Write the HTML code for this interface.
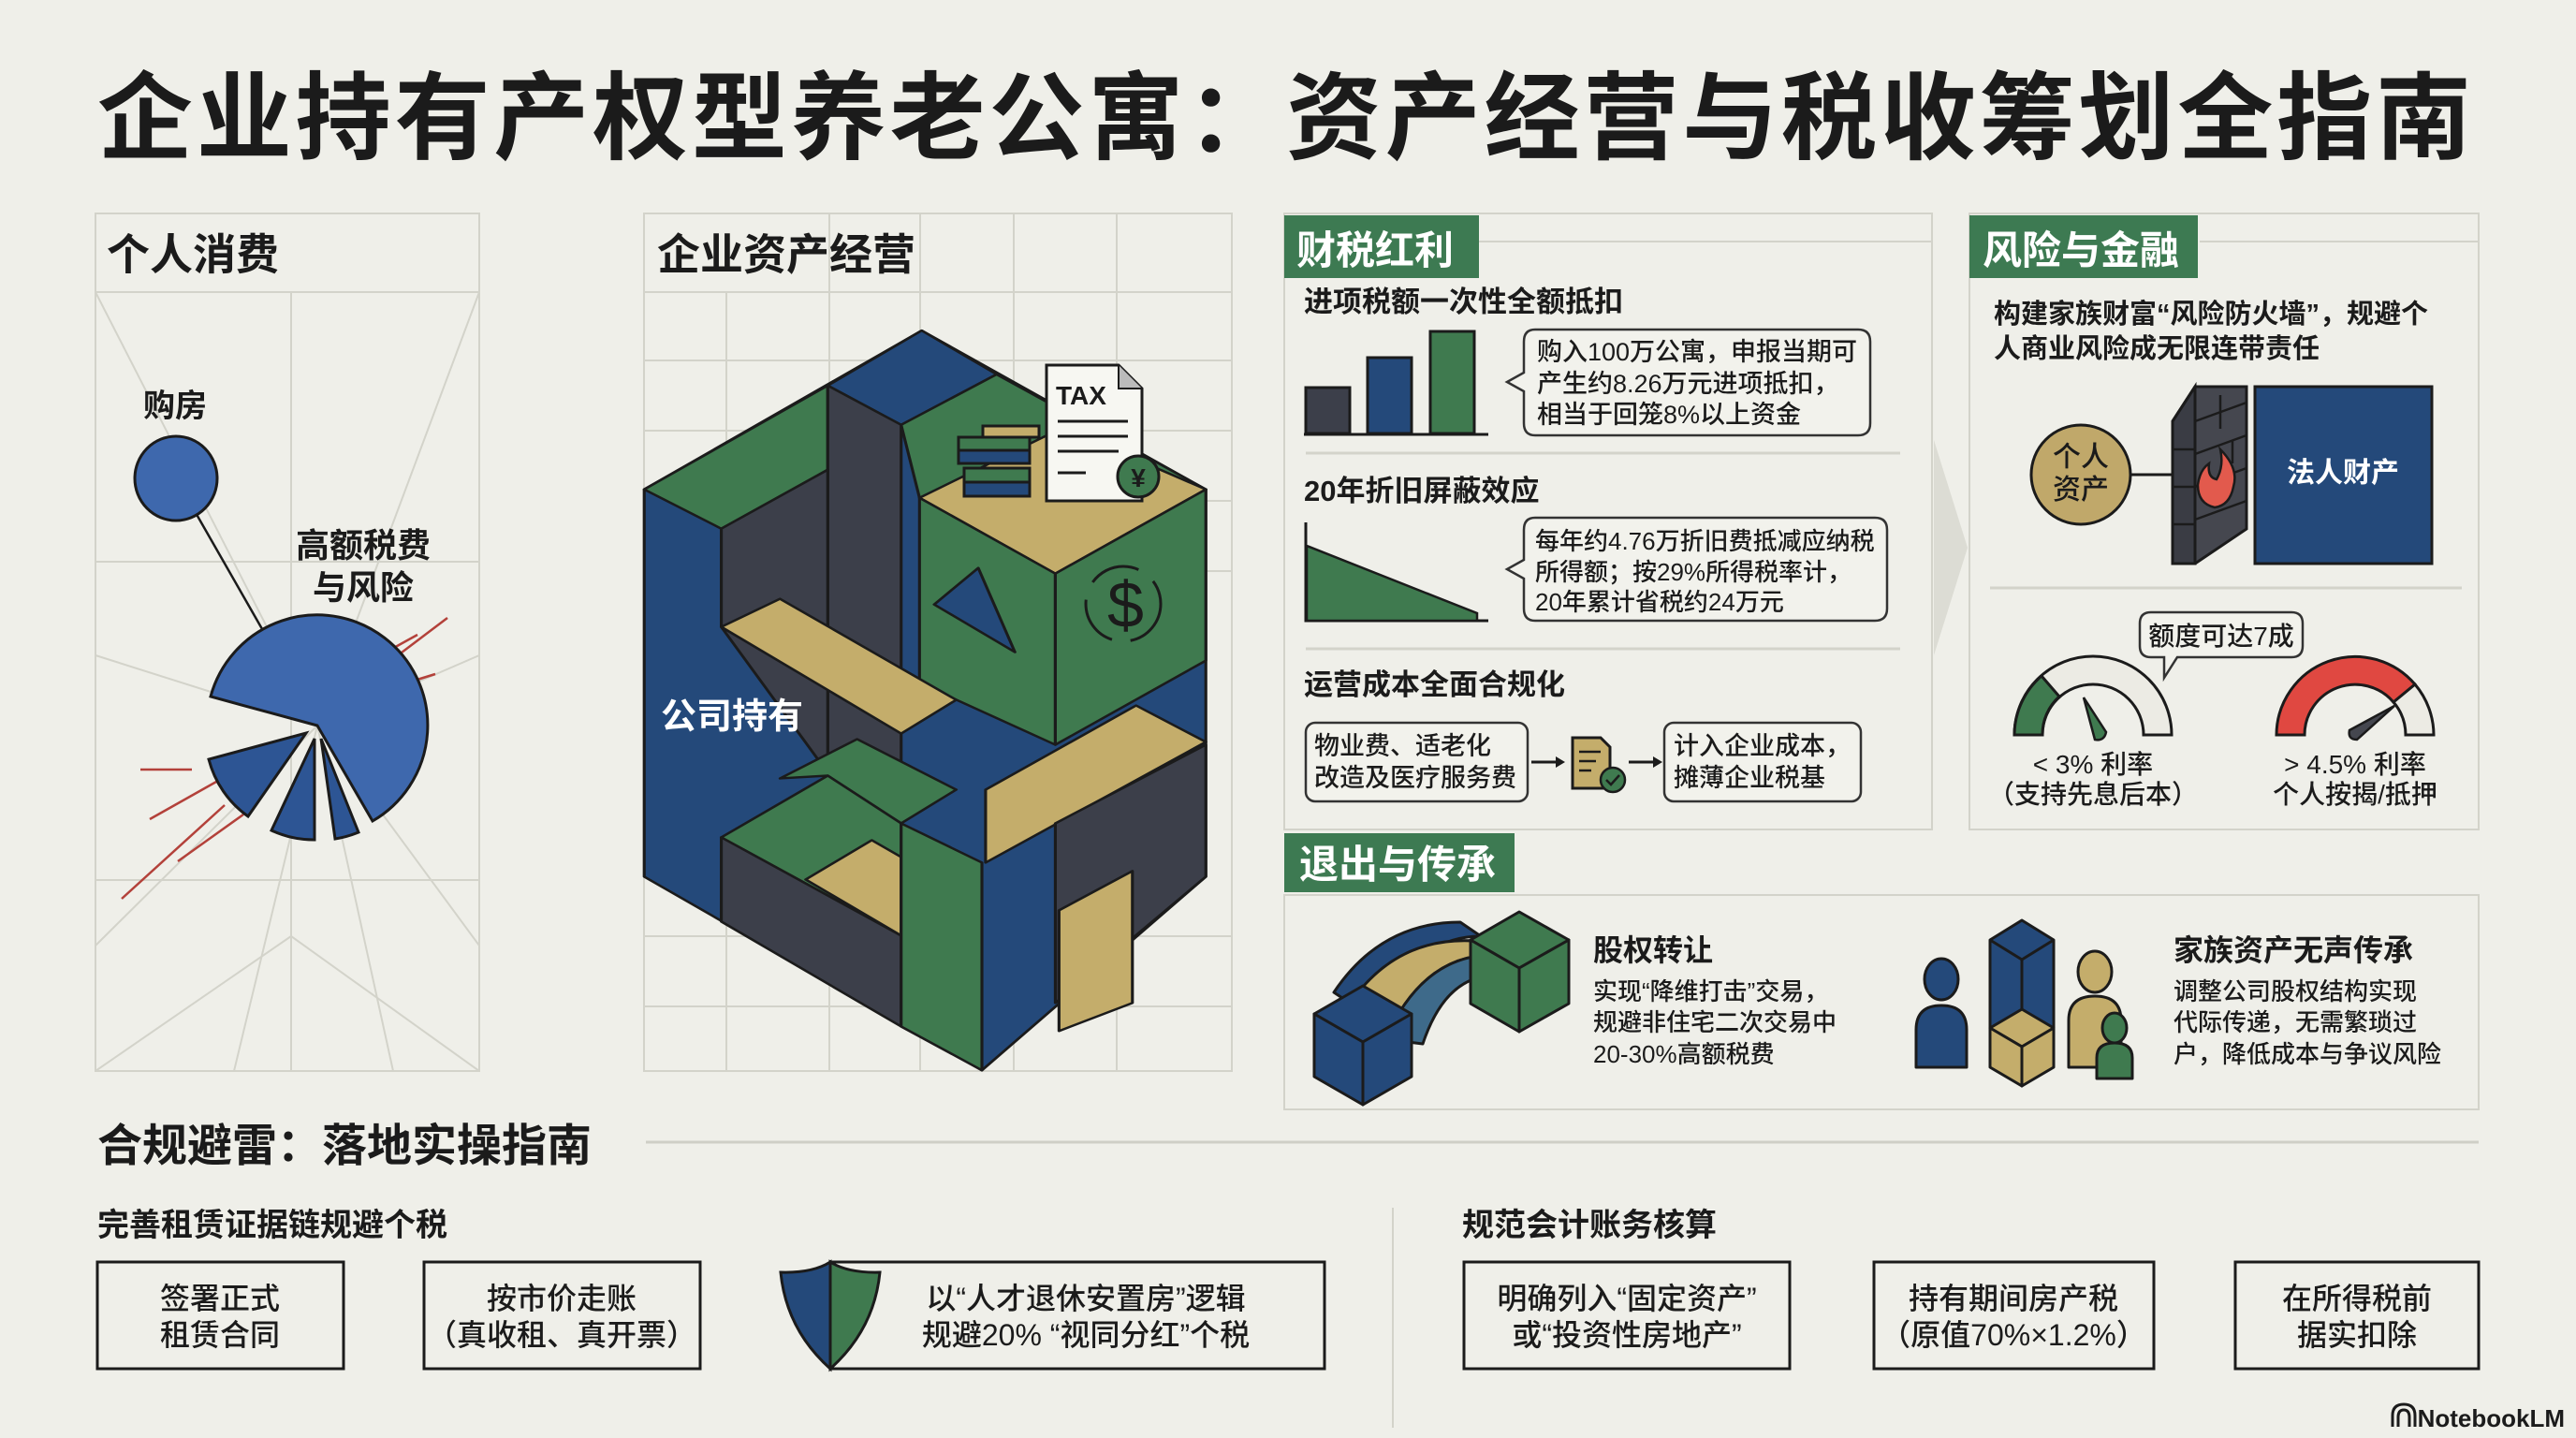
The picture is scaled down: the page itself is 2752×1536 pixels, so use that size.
<!DOCTYPE html>
<html><head><meta charset="utf-8"><style>
html,body{margin:0;padding:0;background:#efefe9}
svg{display:block}
text{font-family:"Liberation Sans","Noto Sans CJK SC",sans-serif;fill:#1b1b1b;font-weight:500}
.b{font-weight:700}
</style></head><body>
<svg width="2752" height="1536" viewBox="0 0 2752 1536" xmlns="http://www.w3.org/2000/svg">
<rect width="2752" height="1536" fill="#efefe9"/>
<!-- Title -->
<text x="104" y="162" font-size="102" class="b" font-weight="900" textLength="2536" lengthAdjust="spacing">企业持有产权型养老公寓：资产经营与税收筹划全指南</text>

<!-- LEFT PANEL -->
<g stroke="#d3d3ca" stroke-width="2" fill="none">
<rect x="102" y="228" width="410" height="916"/>
<line x1="102" y1="312" x2="512" y2="312"/>
<line x1="311" y1="312" x2="311" y2="1144"/>
<line x1="102" y1="600" x2="512" y2="600"/>
<line x1="102" y1="940" x2="512" y2="940"/>
<line x1="102" y1="312" x2="339" y2="775"/>
<line x1="512" y1="312" x2="339" y2="775"/>
<line x1="102" y1="1010" x2="339" y2="775"/>
<line x1="512" y1="1010" x2="339" y2="775"/>
<line x1="102" y1="700" x2="339" y2="775"/>
<line x1="512" y1="700" x2="339" y2="775"/>
<line x1="311" y1="1000" x2="102" y2="1144"/>
<line x1="311" y1="1000" x2="512" y2="1144"/>
<line x1="339" y1="775" x2="250" y2="1144"/>
<line x1="339" y1="775" x2="420" y2="1144"/>
</g>
<text x="114" y="288" font-size="46" class="b">个人消费</text>
<text x="153" y="445" font-size="34" class="b">购房</text>
<text x="316" y="595" font-size="36" class="b">高额税费</text>
<text x="334" y="640" font-size="36" class="b">与风险</text>
<line x1="188" y1="511" x2="339" y2="775" stroke="#1b1b1b" stroke-width="2.5"/>
<ellipse cx="188" cy="511" rx="44" ry="45" fill="#3e68ad" stroke="#1b1b1b" stroke-width="3"/>
<g stroke="#b3413a" stroke-width="2.5">
<line x1="392" y1="725" x2="478" y2="660"/><line x1="370" y1="720" x2="446" y2="678"/>
<line x1="400" y1="740" x2="465" y2="720"/><line x1="370" y1="755" x2="430" y2="700"/>
<line x1="150" y1="822" x2="205" y2="822"/><line x1="160" y1="875" x2="240" y2="830"/>
<line x1="130" y1="960" x2="240" y2="860"/><line x1="190" y1="920" x2="260" y2="870"/>
</g>
<path d="M339 775 L225 744 A118 118 0 1 1 398 877 Z" fill="#3e68ad" stroke="#1b1b1b" stroke-width="3"/>
<path d="M343 789 L383 889 A108 108 0 0 1 358 896 Z" fill="#2d5594" stroke="#1b1b1b" stroke-width="3"/>
<path d="M336 789 L336 897 A108 108 0 0 1 290 887 Z" fill="#2d5594" stroke="#1b1b1b" stroke-width="3"/>
<path d="M327 783 L265 872 A108 108 0 0 1 223 811 Z" fill="#2d5594" stroke="#1b1b1b" stroke-width="3"/>

<!-- MIDDLE PANEL -->
<g stroke="#d3d3ca" stroke-width="2" fill="none">
<rect x="688" y="228" width="628" height="916"/>
<line x1="688" y1="312" x2="1316" y2="312"/>
<line x1="776" y1="312" x2="776" y2="1144"/><line x1="886" y1="228" x2="886" y2="1144"/>
<line x1="983" y1="228" x2="983" y2="1144"/><line x1="1083" y1="228" x2="1083" y2="1144"/>
<line x1="1193" y1="228" x2="1193" y2="1144"/>
<line x1="688" y1="385" x2="1316" y2="385"/><line x1="688" y1="460" x2="1316" y2="460"/>
<line x1="688" y1="535" x2="1316" y2="535"/><line x1="688" y1="610" x2="1316" y2="610"/>
<line x1="688" y1="1000" x2="1316" y2="1000"/><line x1="688" y1="1075" x2="1316" y2="1075"/>
</g>
<text x="702" y="288" font-size="46" class="b">企业资产经营</text>
<g transform="translate(100,220) scale(0.7843,0.5995)" stroke="#1b1b1b" stroke-width="4" stroke-linejoin="round">
<polygon points="1128,222 1515,505 1515,1195 1210,1540 750,1195 750,505" fill="#24497a"/>
<polygon points="750,505 1000,320 1000,470 855,575" fill="#3f7a4f"/>
<polygon points="1000,320 1128,222 1230,300 1100,390" fill="#24497a"/>
<polygon points="1000,320 1100,390 1100,1100 1000,1010" fill="#3c3f4a"/>
<polygon points="855,575 1000,470 1000,1010 855,750" fill="#3c3f4a"/>
<polygon points="1230,300 1515,505 1310,655 1125,520 1100,390" fill="#3f7a4f"/>
<polygon points="1125,520 1320,395 1515,505 1310,655" fill="#c4ad6b"/>
<polygon points="1125,520 1310,655 1310,960 1125,850" fill="#3f7a4f"/>
<polygon points="1310,655 1515,505 1515,810 1310,960" fill="#3f7a4f"/>
<polygon points="1145,710 1205,645 1255,795" fill="#24497a"/>
<polygon points="855,750 935,700 1175,880 1100,940" fill="#c4ad6b"/>
<polygon points="935,1020 1040,950 1175,1040 1100,1100 1000,1015" fill="#3f7a4f"/>
<polygon points="855,1125 1000,1015 1100,1100 1100,1300" fill="#3f7a4f"/>
<polygon points="855,1125 1100,1300 1100,1462 855,1275" fill="#3c3f4a"/>
<polygon points="970,1200 1060,1130 1100,1160 1100,1300" fill="#c4ad6b"/>
<polygon points="1100,1100 1210,1170 1210,1540 1100,1462" fill="#3f7a4f"/>
<polygon points="1215,1040 1420,890 1515,955 1215,1170" fill="#c4ad6b"/>
<polygon points="1310,1100 1515,960 1515,1195 1310,1420" fill="#3c3f4a"/>
<polygon points="1315,1255 1415,1185 1415,1420 1315,1470" fill="#c4ad6b"/>
</g>
<text x="1183" y="670" font-size="70" fill="#1b1b1b" font-family="Liberation Sans">$</text>
<circle cx="1200" cy="645" r="40" fill="none" stroke="#1b1b1b" stroke-width="3" stroke-dasharray="55 20"/>
<g stroke="#1b1b1b" stroke-width="3">
<rect x="1030" y="500" width="70" height="15" fill="#3f7a4f"/><rect x="1030" y="515" width="70" height="15" fill="#24497a"/>
<rect x="1024" y="467" width="76" height="14" fill="#3f7a4f"/><rect x="1024" y="481" width="76" height="14" fill="#24497a"/>
<rect x="1050" y="455" width="60" height="12" fill="#c4ad6b"/>
</g>
<path d="M1118 390 L1195 390 L1220 415 L1220 535 L1118 535 Z" fill="#f7f7f2" stroke="#1b1b1b" stroke-width="3"/>
<path d="M1195 390 L1195 415 L1220 415" fill="#bbb" stroke="#1b1b1b" stroke-width="2"/>
<text x="1128" y="432" font-size="28" class="b">TAX</text>
<g stroke="#1b1b1b" stroke-width="3"><line x1="1130" y1="450" x2="1205" y2="450"/><line x1="1130" y1="466" x2="1205" y2="466"/><line x1="1130" y1="482" x2="1195" y2="482"/><line x1="1130" y1="505" x2="1160" y2="505"/></g>
<circle cx="1216" cy="509" r="22" fill="#3f7a4f" stroke="#1b1b1b" stroke-width="3"/>
<text x="1216" y="520" font-size="28" text-anchor="middle" class="b">¥</text>
<text x="706" y="778" font-size="38" class="b" style="fill:#fff">公司持有</text>

<polygon points="2066,470 2102,585 2066,700" fill="#dcdcd4"/>

<!-- FINANCE PANEL -->
<rect x="1372" y="228" width="692" height="658" fill="none" stroke="#d3d3ca" stroke-width="2"/>
<line x1="1580" y1="258" x2="2064" y2="258" stroke="#d3d3ca" stroke-width="2"/>
<rect x="1372" y="230" width="208" height="67" fill="#3d7a52"/>
<text x="1385" y="282" font-size="42" class="b" style="fill:#fff">财税红利</text>
<text x="1393" y="333" font-size="31" class="b">进项税额一次性全额抵扣</text>
<g stroke="#1b1b1b" stroke-width="3">
<rect x="1395" y="414" width="47" height="49" fill="#3c3f4a"/>
<rect x="1461" y="382" width="47" height="81" fill="#24497a"/>
<rect x="1528" y="354" width="47" height="109" fill="#3f7a4f"/>
<line x1="1393" y1="464" x2="1590" y2="464"/>
</g>
<path d="M1640 352 H1985 Q1998 352 1998 365 V452 Q1998 465 1985 465 H1640 Q1628 465 1628 452 V418 L1610 408 L1628 398 V365 Q1628 352 1640 352 Z" fill="#f2f2ec" stroke="#333" stroke-width="2.5"/>
<text font-size="27"><tspan x="1642" y="385">购入100万公寓，申报当期可</tspan><tspan x="1642" y="419">产生约8.26万元进项抵扣，</tspan><tspan x="1642" y="452">相当于回笼8%以上资金</tspan></text>
<line x1="1395" y1="484" x2="2030" y2="484" stroke="#d3d3ca" stroke-width="3"/>
<text x="1393" y="535" font-size="31" class="b">20年折旧屏蔽效应</text>
<path d="M1395 558 L1395 663 L1590 663" fill="none" stroke="#1b1b1b" stroke-width="3"/>
<polygon points="1396,583 1578,655 1578,663 1396,663" fill="#3f7a4f" stroke="#1b1b1b" stroke-width="2.5"/>
<path d="M1640 553 H2003 Q2016 553 2016 566 V650 Q2016 663 2003 663 H1640 Q1628 663 1628 650 V618 L1610 608 L1628 598 V566 Q1628 553 1640 553 Z" fill="#f2f2ec" stroke="#333" stroke-width="2.5"/>
<text font-size="26"><tspan x="1640" y="587">每年约4.76万折旧费抵减应纳税</tspan><tspan x="1640" y="620">所得额；按29%所得税率计，</tspan><tspan x="1640" y="652">20年累计省税约24万元</tspan></text>
<line x1="1395" y1="693" x2="2030" y2="693" stroke="#d3d3ca" stroke-width="3"/>
<text x="1393" y="742" font-size="31" class="b">运营成本全面合规化</text>
<rect x="1395" y="772" width="237" height="84" rx="10" fill="#f2f2ec" stroke="#333" stroke-width="2.5"/>
<text font-size="27"><tspan x="1404" y="806">物业费、适老化</tspan><tspan x="1404" y="840">改造及医疗服务费</tspan></text>
<line x1="1636" y1="814" x2="1668" y2="814" stroke="#1b1b1b" stroke-width="3"/><polygon points="1672,814 1662,808 1662,820" fill="#1b1b1b"/>
<path d="M1680 788 L1710 788 L1720 798 L1720 842 L1680 842 Z" fill="#c4ad6b" stroke="#1b1b1b" stroke-width="3"/>
<g stroke="#1b1b1b" stroke-width="2.5"><line x1="1687" y1="803" x2="1710" y2="803"/><line x1="1687" y1="813" x2="1705" y2="813"/><line x1="1687" y1="823" x2="1700" y2="823"/></g>
<circle cx="1723" cy="833" r="13" fill="#3f7a4f" stroke="#1b1b1b" stroke-width="2.5"/>
<path d="M1716 833 L1721 838 L1730 828" fill="none" stroke="#1b1b1b" stroke-width="2.5"/>
<line x1="1740" y1="814" x2="1770" y2="814" stroke="#1b1b1b" stroke-width="3"/><polygon points="1776,814 1766,808 1766,820" fill="#1b1b1b"/>
<rect x="1778" y="772" width="210" height="84" rx="10" fill="#f2f2ec" stroke="#333" stroke-width="2.5"/>
<text font-size="27"><tspan x="1788" y="806">计入企业成本，</tspan><tspan x="1788" y="840">摊薄企业税基</tspan></text>

<!-- RISK PANEL -->
<rect x="2104" y="228" width="544" height="658" fill="none" stroke="#d3d3ca" stroke-width="2"/>
<line x1="2350" y1="258" x2="2648" y2="258" stroke="#d3d3ca" stroke-width="2"/>
<rect x="2104" y="230" width="244" height="67" fill="#3d7a52"/>
<text x="2118" y="282" font-size="42" class="b" style="fill:#fff">风险与金融</text>
<text font-size="29" class="b"><tspan x="2130" y="345">构建家族财富“风险防火墙”，规避个</tspan><tspan x="2130" y="382">人商业风险成无限连带责任</tspan></text>
<line x1="2277" y1="507" x2="2325" y2="507" stroke="#1b1b1b" stroke-width="3"/>
<circle cx="2223" cy="507" r="53" fill="#c0a86a" stroke="#1b1b1b" stroke-width="3"/>
<text x="2223" y="498" font-size="30" text-anchor="middle">个人</text>
<text x="2223" y="533" font-size="30" text-anchor="middle">资产</text>
<polygon points="2321,450 2345,413 2400,413 2400,565 2345,602 2321,602" fill="#45474f" stroke="#1b1b1b" stroke-width="3"/>
<polygon points="2321,450 2345,413 2345,602 2321,602" fill="#3a3c44" stroke="#1b1b1b" stroke-width="3"/>
<g stroke="#1b1b1b" stroke-width="2.5">
<line x1="2345" y1="450" x2="2400" y2="430"/><line x1="2345" y1="485" x2="2400" y2="465"/><line x1="2345" y1="520" x2="2400" y2="500"/><line x1="2345" y1="555" x2="2400" y2="535"/>
<line x1="2321" y1="480" x2="2345" y2="480"/><line x1="2321" y1="520" x2="2345" y2="520"/><line x1="2321" y1="560" x2="2345" y2="560"/>
<line x1="2372" y1="422" x2="2372" y2="458"/><line x1="2385" y1="470" x2="2385" y2="495"/>
</g>
<path d="M2372 480 Q2392 500 2386 520 Q2382 540 2366 542 Q2348 538 2348 518 Q2350 502 2360 495 Q2358 510 2368 512 Q2376 498 2372 480 Z" fill="#e25a4d" stroke="#1b1b1b" stroke-width="2.5"/>
<rect x="2409" y="413" width="189" height="189" fill="#24497a" stroke="#1b1b1b" stroke-width="3"/>
<text x="2503" y="515" font-size="30" text-anchor="middle" class="b" style="fill:#fff">法人财产</text>
<line x1="2126" y1="628" x2="2630" y2="628" stroke="#d3d3ca" stroke-width="3"/>
<path d="M2298 654 H2448 Q2460 654 2460 666 V690 Q2460 702 2448 702 H2326 L2312 724 L2312 702 H2298 Q2286 702 2286 690 V666 Q2286 654 2298 654 Z" fill="#f2f2ec" stroke="#333" stroke-width="2.5"/>
<text x="2373" y="689" font-size="28" text-anchor="middle">额度可达7成</text>
<path d="M2152 785 A84 84 0 0 1 2320 785 L2290 785 A54 54 0 0 0 2182 785 Z" fill="#ecebe4" stroke="#1b1b1b" stroke-width="3"/>
<path d="M2152 785 A84 84 0 0 1 2181 722 L2200 744 A54 54 0 0 0 2182 785 Z" fill="#3f7a4f" stroke="#1b1b1b" stroke-width="3"/>
<path d="M2226 745 L2250 782 Q2248 792 2238 790 Z" fill="#3f7a4f" stroke="#1b1b1b" stroke-width="2.5"/>
<path d="M2432 785 A84 84 0 0 1 2580 731 L2557 750 A54 54 0 0 0 2462 785 Z" fill="#e04841" stroke="#1b1b1b" stroke-width="3"/>
<path d="M2580 731 A84 84 0 0 1 2600 785 L2570 785 A54 54 0 0 0 2557 750 Z" fill="#ecebe4" stroke="#1b1b1b" stroke-width="3"/>
<path d="M2558 754 L2518 790 Q2508 790 2510 780 Z" fill="#45474f" stroke="#1b1b1b" stroke-width="2.5"/>
<text x="2236" y="826" font-size="28" text-anchor="middle">&lt; 3% 利率</text>
<text x="2236" y="858" font-size="28" text-anchor="middle">（支持先息后本）</text>
<text x="2516" y="826" font-size="28" text-anchor="middle">&gt; 4.5% 利率</text>
<text x="2516" y="858" font-size="28" text-anchor="middle">个人按揭/抵押</text>

<!-- EXIT -->
<rect x="1372" y="890" width="246" height="63" fill="#3d7a52"/>
<text x="1388" y="938" font-size="42" class="b" style="fill:#fff">退出与传承</text>
<rect x="1372" y="956" width="1276" height="229" fill="none" stroke="#d3d3ca" stroke-width="2"/>
<g stroke="#1b1b1b" stroke-width="3" stroke-linejoin="round">
<path d="M1425 1060 Q1475 985 1560 985 L1582 1000 Q1510 1000 1470 1090 Z" fill="#24497a"/>
<path d="M1440 1075 Q1490 1000 1575 1005 L1595 1020 Q1520 1020 1480 1110 Z" fill="#c4ad6b"/>
<path d="M1480 1110 Q1520 1020 1595 1020 L1600 1042 Q1545 1040 1520 1115 Z" fill="#3e6a8a"/>
<polygon points="1456,1053 1508,1083 1456,1113 1404,1083" fill="#24497a"/>
<polygon points="1404,1083 1456,1113 1456,1180 1404,1150" fill="#24497a"/>
<polygon points="1456,1113 1508,1083 1508,1150 1456,1180" fill="#24497a"/>
<polygon points="1623,974 1676,1004 1623,1034 1571,1004" fill="#3f7a4f"/>
<polygon points="1571,1004 1623,1034 1623,1102 1571,1072" fill="#3f7a4f"/>
<polygon points="1623,1034 1676,1004 1676,1072 1623,1102" fill="#3f7a4f"/>
</g>
<text x="1702" y="1026" font-size="32" class="b">股权转让</text>
<text font-size="26"><tspan x="1702" y="1068">实现“降维打击”交易，</tspan><tspan x="1702" y="1101">规避非住宅二次交易中</tspan><tspan x="1702" y="1135">20-30%高额税费</tspan></text>
<g stroke="#1b1b1b" stroke-width="3" stroke-linejoin="round">
<ellipse cx="2074" cy="1046" rx="18" ry="22" fill="#24497a"/>
<path d="M2047 1140 V1100 Q2047 1074 2074 1074 Q2101 1074 2101 1100 V1140 Z" fill="#24497a"/>
<ellipse cx="2238" cy="1038" rx="18" ry="22" fill="#c4ad6b"/>
<path d="M2210 1140 V1090 Q2210 1064 2238 1064 Q2266 1064 2266 1090 V1140 Z" fill="#c4ad6b"/>
<polygon points="2160,983 2194,1004 2194,1110 2160,1130 2126,1110 2126,1004" fill="#24497a"/>
<line x1="2160" y1="1025" x2="2160" y2="1130"/><polyline points="2126,1004 2160,1025 2194,1004" fill="none"/>
<polygon points="2160,1078 2194,1098 2160,1118 2126,1098" fill="#c4ad6b"/>
<polygon points="2126,1098 2160,1118 2160,1160 2126,1140" fill="#c4ad6b"/>
<polygon points="2160,1118 2194,1098 2194,1140 2160,1160" fill="#c4ad6b"/>
<ellipse cx="2259" cy="1098" rx="13" ry="16" fill="#3f7a4f"/>
<path d="M2240 1152 V1130 Q2240 1114 2259 1114 Q2278 1114 2278 1130 V1152 Z" fill="#3f7a4f"/>
</g>
<text x="2322" y="1026" font-size="32" class="b">家族资产无声传承</text>
<text font-size="26"><tspan x="2322" y="1068">调整公司股权结构实现</tspan><tspan x="2322" y="1101">代际传递，无需繁琐过</tspan><tspan x="2322" y="1135">户，降低成本与争议风险</tspan></text>

<!-- BOTTOM -->
<text x="104" y="1240" font-size="48" class="b">合规避雷：落地实操指南</text>
<line x1="690" y1="1220" x2="2648" y2="1220" stroke="#cfcfc6" stroke-width="3"/>
<text x="104" y="1320" font-size="34" class="b">完善租赁证据链规避个税</text>
<text x="1562" y="1320" font-size="34" class="b">规范会计账务核算</text>
<line x1="1488" y1="1290" x2="1488" y2="1525" stroke="#d3d3ca" stroke-width="2"/>
<g fill="none" stroke="#1b1b1b" stroke-width="3">
<rect x="104" y="1348" width="263" height="114"/>
<rect x="453" y="1348" width="295" height="114"/>
<rect x="887" y="1348" width="528" height="114"/>
<rect x="1564" y="1348" width="348" height="114"/>
<rect x="2002" y="1348" width="299" height="114"/>
<rect x="2388" y="1348" width="260" height="114"/>
</g>
<path d="M834 1359 Q868 1360 887 1348 L887 1462 Q840 1420 834 1359 Z" fill="#24497a" stroke="#1b1b1b" stroke-width="3"/>
<path d="M887 1348 Q906 1360 940 1359 Q934 1420 887 1462 Z" fill="#3f7a4f" stroke="#1b1b1b" stroke-width="3"/>
<g font-size="32" text-anchor="middle">
<text x="235" y="1398">签署正式</text><text x="235" y="1437">租赁合同</text>
<text x="600" y="1398">按市价走账</text><text x="600" y="1437">（真收租、真开票）</text>
<text x="1160" y="1398">以“人才退休安置房”逻辑</text><text x="1160" y="1437">规避20% “视同分红”个税</text>
<text x="1738" y="1398">明确列入“固定资产”</text><text x="1738" y="1437">或“投资性房地产”</text>
<text x="2151" y="1398">持有期间房产税</text><text x="2151" y="1437">（原值70%×1.2%）</text>
<text x="2518" y="1398">在所得税前</text><text x="2518" y="1437">据实扣除</text>
</g>
<text x="2740" y="1524" font-size="26" text-anchor="end" class="b">NotebookLM</text>
<path d="M2556 1524 V1512 Q2556 1500 2568 1500 Q2580 1500 2580 1512 V1524 M2562 1524 V1514 Q2562 1506 2568 1506 Q2574 1506 2574 1514 V1524" fill="none" stroke="#1b1b1b" stroke-width="3"/>
</svg>
</body></html>
